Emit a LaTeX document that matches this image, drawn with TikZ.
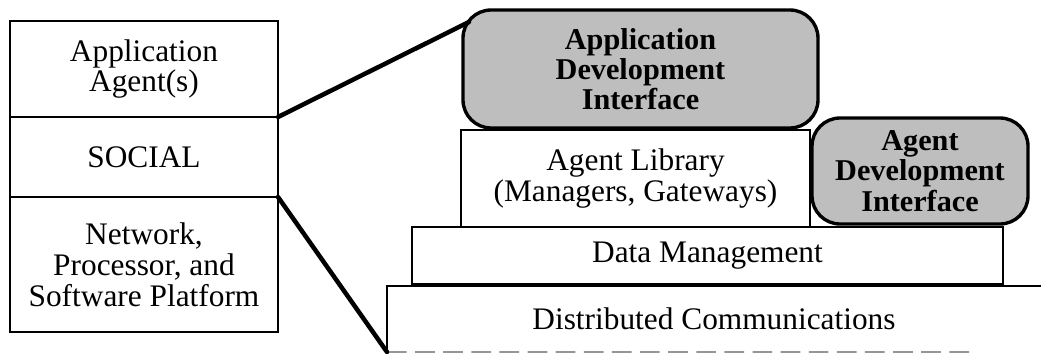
\documentclass[tikz,border=0pt]{standalone}
\usepackage{fontspec}
\setmainfont{Liberation Serif}
\usepackage{tikz}
\usetikzlibrary{
  positioning,
  calc
}
\tikzset{
  every node/.style={inner sep=2pt}
}
\definecolor{ifaceGray}{RGB}{190, 190, 190}
\definecolor{cutGray}{RGB}{150, 150, 150}

\begin{document}
\begin{tikzpicture}[
    font=\fontsize{22.3}{22}\selectfont,
    node distance=0pt,
    layer/.style={rectangle, draw, align=center, line width=1.8pt, outer sep=0pt, minimum width=6.7cm},
    tier/.style={rectangle, draw, align=center, line width=1.8pt, outer sep=0pt},
    iface/.style={rectangle, draw, fill=ifaceGray, rounded corners=20pt, align=center, line width=2.4pt, outer sep=0pt, font=\fontsize{21.5}{21.5}\selectfont\bfseries},
    link/.style={draw, line width=3.2pt, line cap=round}
]
    \useasboundingbox (0,0) rectangle (26.025,8.825);

    % left: the agent stack
    \node[layer, minimum height=2.4cm, anchor=north west] (appagent) at (0.25,8.3) {Application\\Agent(s)};
    \node[layer, minimum height=2cm, below=of appagent] (social) {SOCIAL};
    \node[layer, minimum height=3.375cm, below=of social] (platform) {Network,\\Processor, and\\Software Platform};

    % right: the platform opened up
    \node[tier, draw=none, minimum width=16.35cm, minimum height=1.65cm, anchor=north west] (distcomm) at (9.675,1.675) {Distributed Communications};
    \node[tier, minimum width=14.775cm, minimum height=1.425cm, anchor=north west] (datamgmt) at (10.3,3.15) {Data Management};
    \node[tier, minimum width=8.725cm, minimum height=2.425cm, above right=0pt and 1.225cm of datamgmt.north west] (agentlib) {Agent Library\\(Managers, Gateways)};

    \node[iface, minimum width=5.4cm, minimum height=2.65cm, above right=0.075cm and 0.05cm of agentlib.south east] (agentdev) {Agent\\Development\\Interface};
    \node[iface, minimum width=8.875cm, minimum height=2.95cm, anchor=north west] (appdev) at (11.575,8.575) {Application\\Development\\Interface};

    % bottom tier is cut off
    \coordinate (cutend) at (24.33,0.025);
    \draw[line width=1.8pt] (distcomm.north east) -- (distcomm.north west) -- (distcomm.south west);
    \draw[cutGray, line width=1.2pt, dash pattern=on 14pt off 6pt] (distcomm.south west) -- (cutend);

    % zoom lines
    \coordinate (appdev-corner) at ($(appdev.north west)+(0.15,-0.3)$);
    \draw[link] (appagent.south east) -- (appdev-corner);
    \draw[link] (platform.north east) -- (distcomm.south west);

\end{tikzpicture}
\end{document}
